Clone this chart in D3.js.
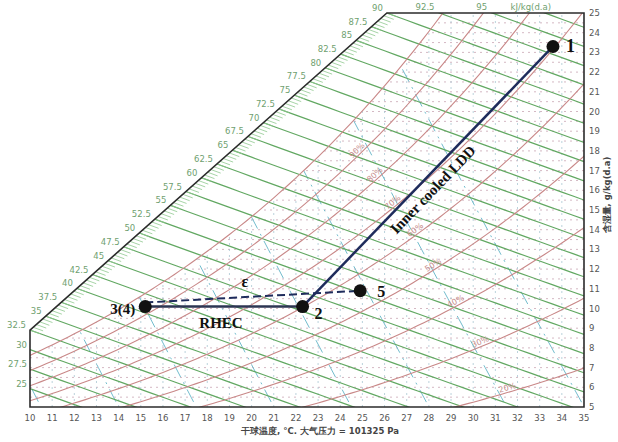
<!DOCTYPE html>
<html lang="zh">
<head>
<meta charset="UTF-8">
<title>Psychrometric chart - Inner cooled LDD / RHEC</title>
<script src="https://d3js.org/d3.v7.min.js"></script>
<style>
  body { margin: 0; background: #fff; }
  svg text { font-family: "DejaVu Sans", sans-serif; }
  .anno { font-family: "Liberation Serif", "DejaVu Serif", serif; font-weight: bold; fill: #111; }
</style>
</head>
<body>
<div id="chart"></div>
<script>
// ---- chart values ----
const pressure = 101.325; // kPa
const tempTicks = [10, 11, 12, 13, 14, 15, 16, 17, 18, 19, 20, 21, 22, 23, 24, 25, 26, 27, 28, 29, 30, 31, 32, 33, 34, 35];
const moistTicks = [5, 6, 7, 8, 9, 10, 11, 12, 13, 14, 15, 16, 17, 18, 19, 20, 21, 22, 23, 24, 25];
const enthalpyLines = [25, 27.5, 30, 32.5, 35, 37.5, 40, 42.5, 45, 47.5, 50, 52.5, 55, 57.5, 60, 62.5, 65, 67.5,
                       70, 72.5, 75, 77.5, 80, 82.5, 85, 87.5, 90, 92.5, 95, 97.5];
const rhLines = [100, 90, 80, 70, 60, 50, 40, 30, 20, 10];
const rhLabels = [90, 80, 70, 60, 50, 40, 30, 20];
const rhLabelTemps = [24.9, 25.7, 26.5, 27.5, 28.3, 29.3, 30.4, 31.6];
const volumeLines = [0.81, 0.82, 0.83, 0.84, 0.85, 0.86, 0.87, 0.88];

// process states
const stateNames = ["1", "2", "3(4)", "5"];
const stateTemp = [33.6, 22.3, 15.2, 24.9];
const stateMoist = [23.3, 10.1, 10.1, 10.9];

// ---- psychrometric helpers ----
const pws = T => 0.61094 * Math.exp(17.625 * T / (T + 243.04));
const wRH = (T, rh) => { const p = rh / 100 * pws(T); return 622 * p / (pressure - p); };
const wH = (h, T) => (h - 1.006 * T) / (2501 + 1.86 * T) * 1000;
const tH = (h, w) => (h - 2.501 * w) / (1.006 + 0.00186 * w);
const hOf = (T, w) => 1.006 * T + w / 1000 * (2501 + 1.86 * T);
const tV = (v, w) => v * pressure / (0.287042 * (1 + 1.6078 * w / 1000)) - 273.15;

const width = 618, height = 442;
const x = d3.scaleLinear().domain([10, 35]).range([30, 584]);
const y = d3.scaleLinear().domain([5, 25]).range([407, 13]);

const svg = d3.select("#chart").append("svg")
    .attr("width", width).attr("height", height);

// corners of the enthalpy scale (diagonal)
const wA = wH(32.5, 10);
const TB = tH(90, 25);
const framePts = [[10, 5], [10, wA], [TB, 25], [35, 25], [35, 5]];

function diag(h) {
    let lo = 0, hi = 1;
    for (let i = 0; i < 40; i++) {
        const s = (lo + hi) / 2;
        const T = 10 + s * (TB - 10), w = wA + s * (25 - wA);
        if (hOf(T, w) < h) lo = s; else hi = s;
    }
    return { T: 10 + lo * (TB - 10), w: wA + lo * (25 - wA) };
}

// saturation boundary for the inner grid
const satPts = [[10, 5]];
for (let T = 10; T <= 35; T += 0.1) {
    const w = wRH(T, 100);
    if (w > 25) { satPts.push([T, 25]); break; }
    satPts.push([T, w]);
}
satPts.push([35, 25], [35, 5]);

const defs = svg.append("defs");
defs.append("clipPath").attr("id", "frameClip").append("path")
    .attr("d", d3.line().x(d => x(d[0])).y(d => y(d[1]))(framePts) + "Z");
defs.append("clipPath").attr("id", "satClip").append("path")
    .attr("d", d3.line().x(d => x(d[0])).y(d => y(d[1]))(satPts) + "Z");

const line = d3.line().x(d => x(d[0])).y(d => y(d[1]));

// dotted grid (unsaturated region)
const grid = svg.append("g").attr("clip-path", "url(#satClip)");
grid.selectAll(".hdot")
    .data(d3.range(5.5, 25, 0.5))
    .enter().append("line")
    .attr("x1", x(10)).attr("x2", x(35))
    .attr("y1", d => y(d)).attr("y2", d => y(d))
    .attr("stroke", "#c9a6b4").attr("stroke-width", 0.8)
    .attr("stroke-dasharray", "2,4");
grid.selectAll(".vdot")
    .data(tempTicks.slice(1, -1))
    .enter().append("line")
    .attr("x1", d => x(d)).attr("x2", d => x(d))
    .attr("y1", y(5)).attr("y2", y(25))
    .attr("stroke", "#a9c6d2").attr("stroke-width", 0.8)
    .attr("stroke-dasharray", "2,4");

// specific volume lines (cyan dash-dot)
grid.selectAll(".vol")
    .data(volumeLines)
    .enter().append("path")
    .attr("d", v => line(d3.range(4, 26.01, 0.5).map(w => [tV(v, w), w])))
    .attr("fill", "none")
    .attr("stroke", "#72bccd").attr("stroke-width", 1)
    .attr("stroke-dasharray", "14,6,2,6");

// enthalpy lines (green)
const fr = svg.append("g").attr("clip-path", "url(#frameClip)");
fr.selectAll(".h")
    .data(enthalpyLines)
    .enter().append("path")
    .attr("d", h => line(d3.range(8, 36.01, 0.5).map(T => [T, wH(h, T)])))
    .attr("fill", "none")
    .attr("stroke", "#62a862").attr("stroke-width", 1.2);

// relative humidity curves (red)
fr.selectAll(".rh")
    .data(rhLines)
    .enter().append("path")
    .attr("d", rh => line(d3.range(9, 36.01, 0.25).map(T => [T, wRH(T, rh)])))
    .attr("fill", "none")
    .attr("stroke", "#c98888").attr("stroke-width", 1.1);

// RH labels
svg.selectAll(".rhl")
    .data(rhLabels)
    .enter().append("text")
    .attr("transform", (rh, i) => {
        const T = rhLabelTemps[i];
        const px = x(T), py = y(wRH(T, rh));
        const ang = Math.atan2(y(wRH(T + 0.2, rh)) - py, x(T + 0.2) - px) * 180 / Math.PI;
        return `translate(${px},${py}) rotate(${ang})`;
    })
    .attr("dy", -2)
    .attr("text-anchor", "middle")
    .attr("font-size", 8)
    .attr("fill", "#c58a8a")
    .text(d => d + "%");

// hatch ticks on the enthalpy scale
svg.selectAll(".hatch")
    .data(d3.range(32.5, 90.01, 0.5))
    .enter().append("line")
    .each(function(h) {
        const p = diag(h);
        d3.select(this)
            .attr("x1", x(p.T)).attr("y1", y(p.w))
            .attr("x2", x(p.T + 0.45)).attr("y2", y(wH(h, p.T + 0.45)));
    })
    .attr("stroke", "#8fc98f").attr("stroke-width", 0.8);

// enthalpy labels
svg.selectAll(".hl")
    .data(enthalpyLines)
    .enter().append("text")
    .each(function(h) {
        const t = d3.select(this);
        if (h < 32.5) {
            t.attr("x", x(10) - 3).attr("y", y(wH(h, 10)) - 2).attr("text-anchor", "end").text(h);
        } else if (h <= 90) {
            const p = diag(h);
            t.attr("x", x(p.T) - 4).attr("y", y(p.w) - 2).attr("text-anchor", "end").text(h);
        } else if (h < 97.5) {
            t.attr("x", x(tH(h, 25)) - 5).attr("y", 10).attr("text-anchor", "end").text(h);
        } else {
            t.attr("x", x(tH(h, 25)) - 14).attr("y", 10).attr("text-anchor", "middle").text("kJ/kg(d.a)");
        }
    })
    .attr("font-size", 8.5)
    .attr("fill", "#6f9f6f");

// frame
svg.append("path")
    .attr("d", line(framePts) + "Z")
    .attr("fill", "none")
    .attr("stroke", "#2b2b2b").attr("stroke-width", 1.6);

// tick labels
svg.selectAll(".xt")
    .data(tempTicks)
    .enter().append("text")
    .attr("x", d => x(d)).attr("y", 421)
    .attr("text-anchor", "middle")
    .attr("font-size", 8.5).attr("fill", "#555")
    .text(d => d);
svg.selectAll(".yt")
    .data(moistTicks)
    .enter().append("text")
    .attr("x", 589).attr("y", d => y(d) + 3)
    .attr("font-size", 8.5).attr("fill", "#555")
    .text(d => d);

svg.append("text")
    .attr("x", 320).attr("y", 434)
    .attr("text-anchor", "middle")
    .attr("font-size", 8.5).attr("font-weight", "bold").attr("fill", "#444")
    .text("干球温度, °C. 大气压力 = 101325 Pa");
svg.append("text")
    .attr("transform", "translate(610,195) rotate(-90)")
    .attr("text-anchor", "middle")
    .attr("font-size", 8.5).attr("font-weight", "bold").attr("fill", "#444")
    .text("含湿量, g/kg(d.a)");

// ---- process lines ----
const P = i => [x(stateTemp[i]), y(stateMoist[i])];
svg.append("line")
    .attr("x1", P(2)[0]).attr("y1", P(2)[1]).attr("x2", P(1)[0]).attr("y2", P(1)[1])
    .attr("stroke", "#2c3552").attr("stroke-width", 2.5);
svg.append("line")
    .attr("x1", P(2)[0]).attr("y1", P(2)[1] - 4).attr("x2", P(3)[0]).attr("y2", P(3)[1])
    .attr("stroke", "#1f2c5c").attr("stroke-width", 2).attr("stroke-dasharray", "8,4");
svg.append("line")
    .attr("x1", P(1)[0]).attr("y1", P(1)[1]).attr("x2", P(0)[0]).attr("y2", P(0)[1])
    .attr("stroke", "#1f2c5c").attr("stroke-width", 2.5);

svg.selectAll(".pt")
    .data(stateNames)
    .enter().append("circle")
    .attr("cx", (d, i) => P(i)[0]).attr("cy", (d, i) => P(i)[1])
    .attr("r", 6.5).attr("fill", "#111");

const nameOffsets = [[13, 6, "start", 18], [12, 12, "start", 16], [-10, 7, "end", 15], [17, 6, "start", 16]];
svg.selectAll(".pl")
    .data(stateNames)
    .enter().append("text")
    .attr("class", "anno")
    .attr("x", (d, i) => P(i)[0] + nameOffsets[i][0])
    .attr("y", (d, i) => P(i)[1] + nameOffsets[i][1])
    .attr("text-anchor", (d, i) => nameOffsets[i][2])
    .attr("font-size", (d, i) => nameOffsets[i][3])
    .text(d => d);

svg.append("text").attr("class", "anno")
    .attr("x", 245).attr("y", 287).attr("text-anchor", "middle")
    .attr("font-size", 16).text("ε");
svg.append("text").attr("class", "anno")
    .attr("x", 221).attr("y", 328).attr("text-anchor", "middle")
    .attr("font-size", 15).text("RHEC");

// label along the inner cooled LDD line
const p1 = P(0), p2 = P(1);
const ang = Math.atan2(p1[1] - p2[1], p1[0] - p2[0]) * 180 / Math.PI;
const mx = (p1[0] + p2[0]) / 2, my = (p1[1] + p2[1]) / 2;
svg.append("text").attr("class", "anno")
    .attr("transform", `translate(${mx + 5},${my + 13}) rotate(${ang})`)
    .attr("text-anchor", "middle").attr("dy", "0.35em")
    .attr("font-size", 15).text("Inner cooled LDD");
</script>
</body>
</html>
